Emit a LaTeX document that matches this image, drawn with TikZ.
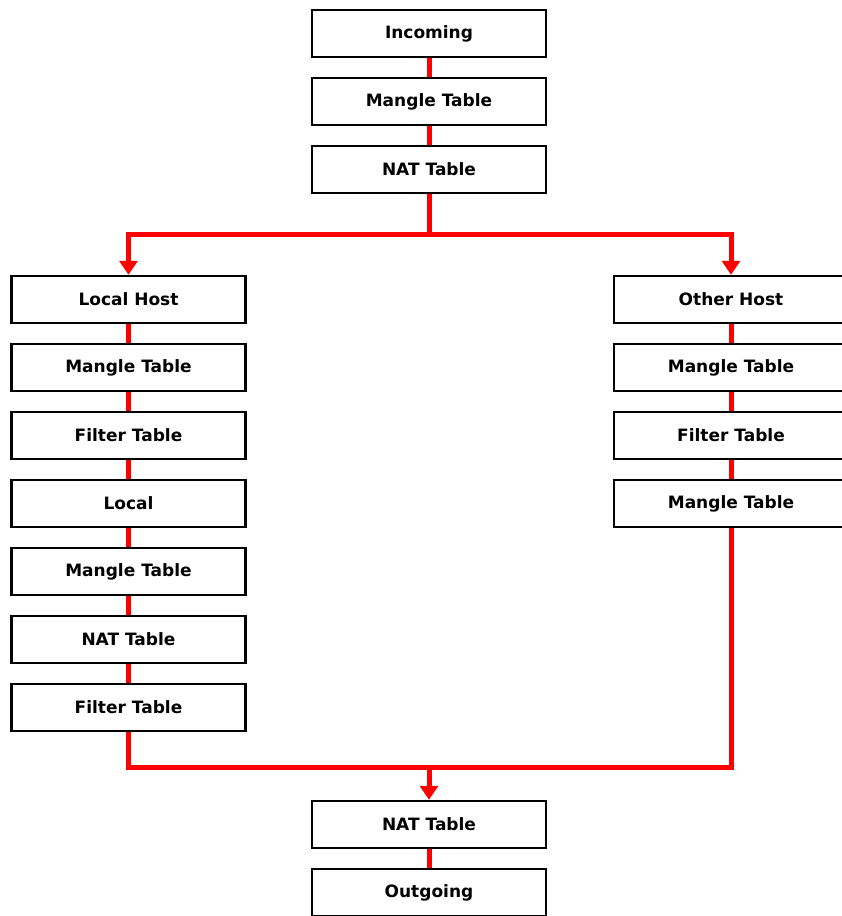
\documentclass[tikz,border=0pt]{standalone}
\usepackage{fontspec}
\setmainfont{DejaVu Sans}
\usepackage{tikz}
\usetikzlibrary{arrows.meta}

\tikzset{
  tbl/.style = {draw, line width = 2.5pt, fill = white, minimum width = 234pt,
                minimum height = 47pt, inner sep = 0pt,
                font = \fontsize{17}{20}\selectfont\bfseries},
  flow/.style = {line width = 5pt, red, line join = miter},
  tip/.style = {-{Triangle[width = 18pt, length = 14pt]}}
}

\begin{document}
\begin{tikzpicture}[x = 1pt, y = -1pt]
  \clip (0, 0) rectangle (842, 916);
  \useasboundingbox (0, 0) rectangle (842, 916);
  % incoming side
  \node[tbl] (inc)  at (429, 33.5)  {Incoming};
  \node[tbl] (mgl0) at (429, 101.5) {Mangle Table};
  \node[tbl] (nat0) at (429, 169.5) {NAT Table};
  % local host column
  \node[tbl] (lhost) at (128.5, 299.5) {Local Host};
  \node[tbl] (mglA)  at (128.5, 367.5) {Mangle Table};
  \node[tbl] (fltA)  at (128.5, 435.5) {Filter Table};
  \node[tbl] (local) at (128.5, 503.5) {Local};
  \node[tbl] (mglB)  at (128.5, 571.5) {Mangle Table};
  \node[tbl] (natB)  at (128.5, 639.5) {NAT Table};
  \node[tbl] (fltB)  at (128.5, 707.5) {Filter Table};
  % other host column
  \node[tbl] (ohost) at (731, 299.5) {Other Host};
  \node[tbl] (mglC)  at (731, 367.5) {Mangle Table};
  \node[tbl] (fltC)  at (731, 435.5) {Filter Table};
  \node[tbl] (mglD)  at (731, 503.5) {Mangle Table};
  % outgoing side
  \node[tbl] (natE) at (429, 824.5) {NAT Table};
  \node[tbl] (out)  at (429, 892.5) {Outgoing};

  \coordinate (split) at (429, 234);
  \coordinate (merge) at (429, 767);

  \draw[flow] (inc) -- (mgl0);
  \draw[flow] (mgl0) -- (nat0);
  \draw[flow] (nat0) -- (split);
  \draw[flow, tip] (split) -| (lhost.north);
  \draw[flow, tip] (split) -| (ohost.north);
  \draw[flow] (lhost) -- (mglA);
  \draw[flow] (mglA) -- (fltA);
  \draw[flow] (fltA) -- (local);
  \draw[flow] (local) -- (mglB);
  \draw[flow] (mglB) -- (natB);
  \draw[flow] (natB) -- (fltB);
  \draw[flow] (ohost) -- (mglC);
  \draw[flow] (mglC) -- (fltC);
  \draw[flow] (fltC) -- (mglD);
  \draw[flow] (fltB.south) |- (merge);
  \draw[flow] (mglD.south) |- (merge);
  \draw[flow, tip] (merge) -- (natE.north);
  \draw[flow] (natE) -- (out);
\end{tikzpicture}
\end{document}
